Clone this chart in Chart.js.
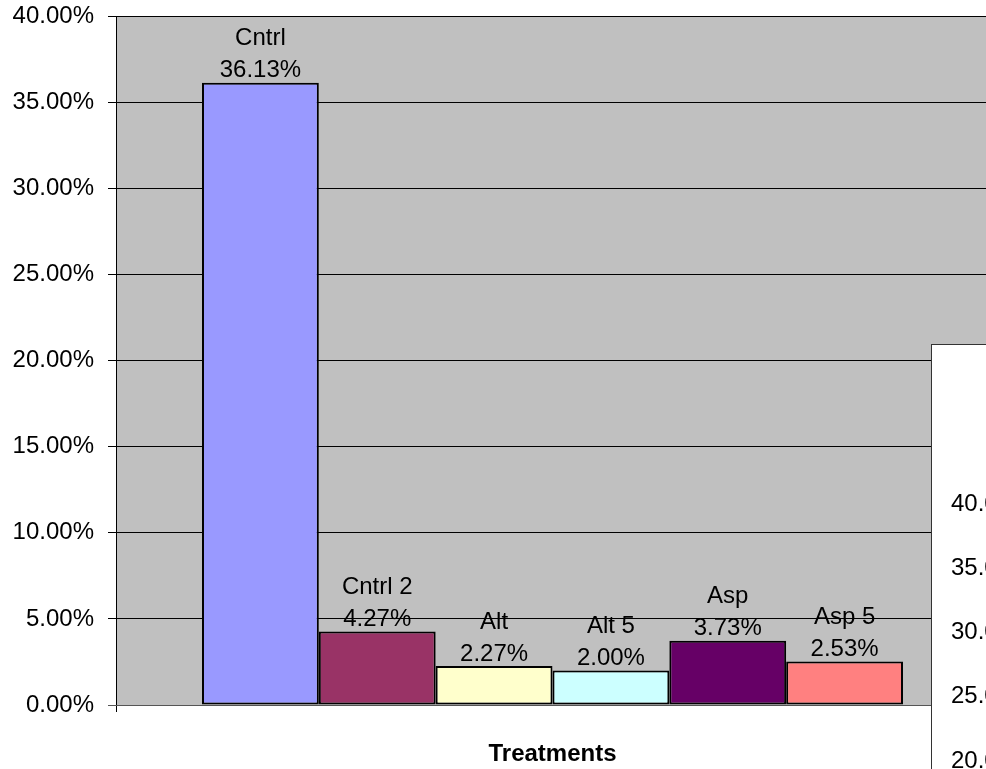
<!DOCTYPE html>
<html>
<head>
<meta charset="utf-8">
<script src="https://cdn.jsdelivr.net/npm/chart.js@4"></script>
<style>
  html, body { margin: 0; padding: 0; background: #fff; }
  body { width: 986px; height: 769px; overflow: hidden; position: relative; }
  #main { position: absolute; left: 0; top: 0; }
  #boxWrap { position: absolute; left: 931px; top: 344px; border-left: 1px solid #333; border-top: 1px solid #333; background: #fff; }
</style>
</head>
<body>
<canvas id="main" width="1000" height="769"></canvas>
<div id="boxWrap"><canvas id="behind" width="300" height="720"></canvas></div>
<script>
// Data
const categories = [''];
const treatments = ['Cntrl', 'Cntrl 2', 'Alt', 'Alt 5', 'Asp', 'Asp 5'];
const percents = [36.13, 4.27, 2.27, 2.00, 3.73, 2.53];
const barColors = ['#9999FF', '#993366', '#FFFFCC', '#CCFFFF', '#660066', '#FF8080'];
const yTicks = [0, 5, 10, 15, 20, 25, 30, 35, 40];

const FONT = "'Liberation Sans', Arial, sans-serif";
Chart.defaults.font.family = FONT;
Chart.defaults.color = '#000';

// Grey plot area behind the bars
const plotBackground = {
    id: 'plotBackground',
    beforeDraw(chart, args, opts) {
        const a = chart.chartArea;
        chart.ctx.save();
        chart.ctx.fillStyle = opts.color;
        chart.ctx.fillRect(a.left, a.top, a.right - a.left, a.bottom - a.top);
        chart.ctx.restore();
    }
};

// Name and value written above each bar
const barLabels = {
    id: 'barLabels',
    afterDatasetsDraw(chart) {
        const ctx = chart.ctx;
        ctx.save();
        ctx.font = '24px ' + FONT;
        ctx.fillStyle = '#000';
        ctx.textAlign = 'center';
        ctx.textBaseline = 'middle';
        chart.data.datasets.forEach((ds, i) => {
            const bar = chart.getDatasetMeta(i).data[0];
            ctx.fillText(ds.label, bar.x, bar.y - 44);
            ctx.fillText(ds.data[0].toFixed(2) + '%', bar.x, bar.y - 12);
        });
        ctx.restore();
    }
};

const datasets = treatments.map((name, i) => ({
    label: name,
    data: [percents[i]],
    backgroundColor: barColors[i],
    borderColor: '#000',
    borderWidth: 2,
    borderSkipped: false,
    barPercentage: 1,
    categoryPercentage: 0.803
}));

new Chart(document.getElementById('main'), {
    type: 'bar',
    data: { labels: categories, datasets: datasets },
    options: {
        responsive: false,
        animation: false,
        layout: { padding: { top: 16, right: 11, left: 0, bottom: 0 } },
        scales: {
            y: {
                min: 0,
                max: 40,
                afterBuildTicks: axis => { axis.ticks = yTicks.map(v => ({ value: v })); },
                afterFit: axis => {
                    axis.width = 116;
                    axis.paddingTop = 0;
                    axis.paddingBottom = 0;
                },
                ticks: {
                    padding: 14,
                    font: { size: 24 },
                    color: '#000',
                    callback: v => v.toFixed(2) + '%'
                },
                grid: {
                    color: ctx => ctx.tick && ctx.tick.value === 0 ? '#555' : '#000',
                    tickLength: 8,
                    lineWidth: 1
                },
                border: { color: '#000', width: 1 }
            },
            x: {
                afterFit: axis => { axis.height = 64; },
                ticks: { display: false },
                grid: {
                    offset: true,
                    drawOnChartArea: false,
                    tickLength: 7,
                    color: '#000'
                },
                border: { color: '#555', width: 1 },
                title: {
                    display: true,
                    text: 'Treatments',
                    font: { size: 24, weight: 'bold' },
                    padding: { top: 0, bottom: 0 }
                }
            }
        },
        plugins: {
            legend: { display: false },
            tooltip: { enabled: false },
            plotBackground: { color: '#C0C0C0' }
        }
    },
    plugins: [plotBackground, barLabels]
});

// Second chart sitting on top, mostly off the right edge of the page
new Chart(document.getElementById('behind'), {
    type: 'bar',
    data: { labels: categories, datasets: datasets.map(d => Object.assign({}, d)) },
    options: {
        responsive: false,
        animation: false,
        layout: { padding: { top: 159, left: 19, right: 0, bottom: 0 } },
        scales: {
            y: {
                min: 0,
                max: 40,
                afterBuildTicks: axis => { axis.ticks = yTicks.map(v => ({ value: v })); },
                afterFit: axis => { axis.width = 120; },
                ticks: {
                    crossAlign: 'far',
                    font: { size: 24 },
                    color: '#000',
                    callback: v => v.toFixed(2) + '%'
                },
                grid: { display: false },
                border: { display: false }
            },
            x: {
                afterFit: axis => { axis.height = 47; },
                ticks: { display: false },
                grid: { display: false },
                border: { display: false }
            }
        },
        plugins: {
            legend: { display: false },
            tooltip: { enabled: false }
        }
    }
});
</script>
</body>
</html>
